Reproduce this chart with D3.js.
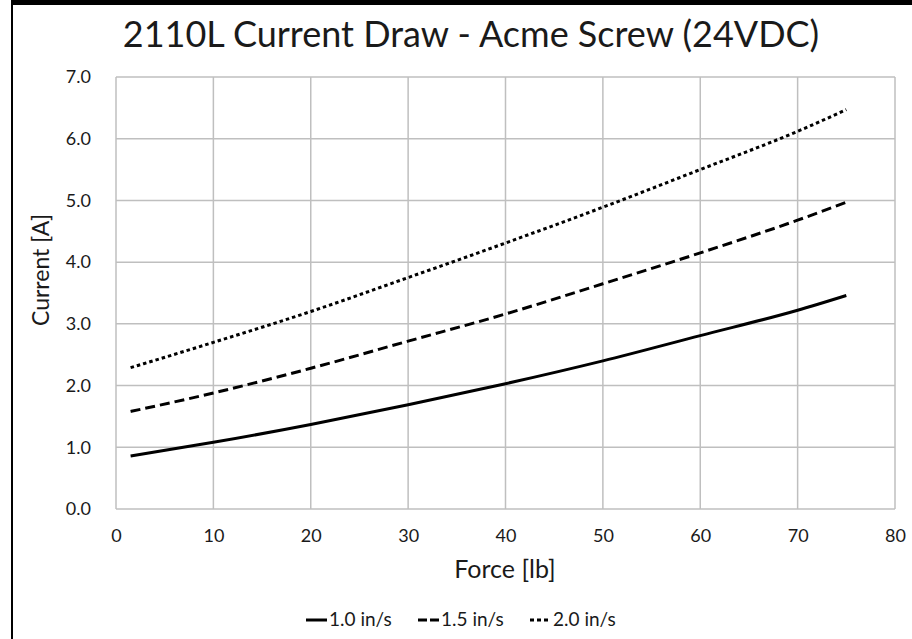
<!DOCTYPE html>
<html>
<head>
<meta charset="utf-8">
<script src="https://cdn.jsdelivr.net/npm/d3@7"></script>
<style>
  html, body { margin: 0; padding: 0; background: #fff; }
  text { font-family: Lato, "Open Sans", sans-serif; fill: #1a1a1a; }
</style>
</head>
<body>
<div id="chart"></div>
<script>
// force values sampled along each curve
var force = [1.5, 10, 20, 30, 40, 50, 60, 70, 75];
var speed10 = [0.86, 1.08, 1.37, 1.69, 2.03, 2.40, 2.81, 3.22, 3.46];
var speed15 = [1.58, 1.88, 2.28, 2.72, 3.16, 3.65, 4.15, 4.68, 4.97];
var speed20 = [2.29, 2.70, 3.20, 3.75, 4.31, 4.89, 5.50, 6.12, 6.47];
var seriesNames = ["1.0 in/s", "1.5 in/s", "2.0 in/s"];
var xTicks = [0, 10, 20, 30, 40, 50, 60, 70, 80];
var yTicks = [0, 1, 2, 3, 4, 5, 6, 7];

var w = 912, h = 639;
var svg = d3.select("#chart").append("svg")
    .attr("width", w)
    .attr("height", h);

// the black frame along the top and left edge
svg.append("rect").attr("x", 11).attr("y", 0).attr("width", w - 11).attr("height", 5).attr("fill", "#000");
svg.append("rect").attr("x", 11).attr("y", 0).attr("width", 2).attr("height", h).attr("fill", "#000");

var x = d3.scaleLinear().domain([0, 80]).range([116, 895]);
var y = d3.scaleLinear().domain([0, 7]).range([509, 77]);

// grid
svg.append("g").selectAll("line")
    .data(xTicks)
    .enter().append("line")
    .attr("x1", function(d) { return x(d); })
    .attr("x2", function(d) { return x(d); })
    .attr("y1", y(0))
    .attr("y2", y(7))
    .attr("stroke", "#bfbfbf")
    .attr("stroke-width", 1.5);
svg.append("g").selectAll("line")
    .data(yTicks)
    .enter().append("line")
    .attr("x1", x(0))
    .attr("x2", x(80))
    .attr("y1", function(d) { return y(d); })
    .attr("y2", function(d) { return y(d); })
    .attr("stroke", "#bfbfbf")
    .attr("stroke-width", 1.5);

// tick labels via axes, lines hidden
var xAxis = svg.append("g")
    .attr("transform", "translate(0," + y(0) + ")")
    .call(d3.axisBottom(x).tickValues(xTicks).tickSize(0).tickPadding(20));
var yAxis = svg.append("g")
    .attr("transform", "translate(" + x(0) + ",0)")
    .call(d3.axisLeft(y).tickValues(yTicks).tickFormat(d3.format(".1f")).tickSize(0).tickPadding(25));
[xAxis, yAxis].forEach(function(a) {
    a.select(".domain").remove();
    a.selectAll("text").style("font-size", "18px").style("font-family", "Lato, 'Open Sans', sans-serif").attr("fill", "#1a1a1a");
});

// series
var dashes = [null, "10,5", "3.5,3"];
var line = d3.line()
    .x(function(d) { return x(d[0]); })
    .y(function(d) { return y(d[1]); })
    .curve(d3.curveMonotoneX);

[speed10, speed15, speed20].forEach(function(vals, i) {
    var pts = force.map(function(f, j) { return [f, vals[j]]; });
    svg.append("path")
        .datum(pts)
        .attr("d", line)
        .attr("fill", "none")
        .attr("stroke", "#000")
        .attr("stroke-width", 3)
        .attr("stroke-dasharray", dashes[i]);
});

// titles
svg.append("text")
    .attr("x", 471)
    .attr("y", 47)
    .attr("text-anchor", "middle")
    .style("font-size", "36px")
    .text("2110L Current Draw - Acme Screw (24VDC)");

svg.append("text")
    .attr("x", 505)
    .attr("y", 578)
    .attr("text-anchor", "middle")
    .style("font-size", "25px")
    .text("Force [lb]");

svg.append("text")
    .attr("transform", "translate(49,270) rotate(-90)")
    .attr("text-anchor", "middle")
    .style("font-size", "23px")
    .text("Current [A]");

// legend
var legX = [306, 418, 530];
var leg = svg.append("g").selectAll("g")
    .data(seriesNames)
    .enter().append("g")
    .attr("transform", function(d, i) { return "translate(" + legX[i] + ",620)"; });
leg.append("line")
    .attr("x1", 0).attr("x2", 21)
    .attr("stroke", "#000")
    .attr("stroke-width", 3)
    .attr("stroke-dasharray", function(d, i) { return i == 1 ? "9,3" : (i == 2 ? "4,3" : null); });
leg.append("text")
    .attr("x", 23)
    .attr("y", 6)
    .style("font-size", "19px")
    .text(function(d) { return d; });
</script>
</body>
</html>
